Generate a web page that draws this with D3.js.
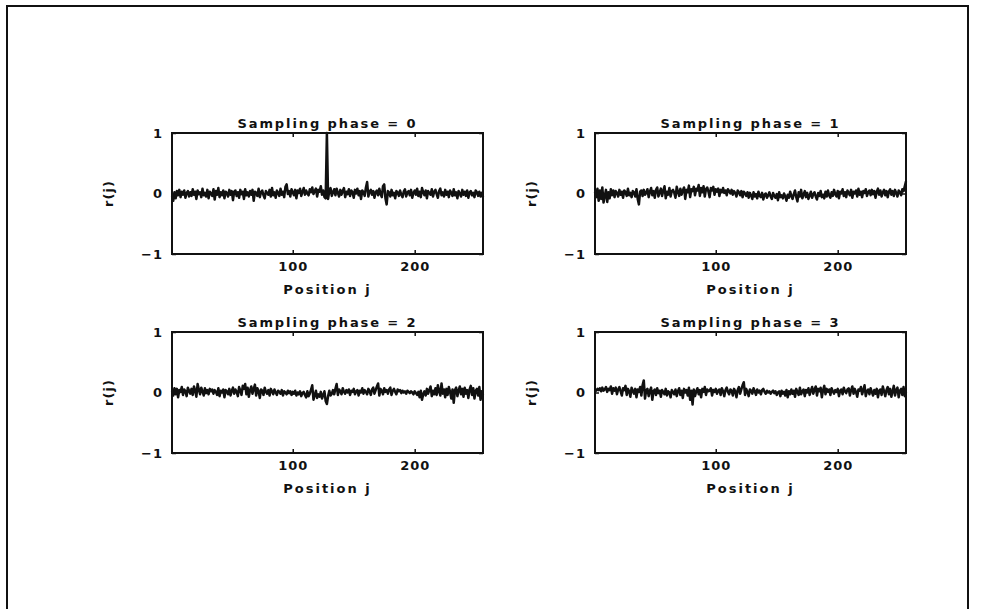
<!DOCTYPE html>
<html>
<head>
<meta charset="utf-8">
<script src="https://cdn.jsdelivr.net/npm/d3@7"></script>
<style>
  body { margin: 0; background: #fff; }
  svg text { font-family: "DejaVu Sans", "Liberation Sans", Arial, sans-serif; font-weight: bold; }
</style>
</head>
<body>
<svg id="chart"></svg>
<script>
// correlation r(j) against position j, for the four sampling phases

var positions = d3.range(1, 257);

var phase0 = [
  -0.05, -0.12, 0.02, -0.08, 0.04, -0.03, 0.06, -0.06, 0.03, -0.02, 0.05, -0.07, 0.01, 0.04, -0.05, 0.02,
  -0.04, 0.07, -0.02, 0.03, -0.09, 0.05, -0.01, 0.02, -0.06, 0.08, -0.03, 0.01, -0.05, 0.06, -0.08, 0.03,
  0.00, -0.04, 0.07, -0.10, 0.04, -0.02, 0.09, -0.06, 0.02, -0.03, 0.05, -0.08, 0.03, 0.01, -0.05, 0.06,
  -0.02, 0.04, -0.11, 0.03, 0.05, -0.04, 0.02, -0.07, 0.06, -0.01, 0.03, -0.09, 0.07, -0.03, 0.02, -0.05,
  0.04, -0.02, 0.06, -0.12, 0.03, 0.01, -0.04, 0.08, -0.06, 0.02, 0.05, -0.03, -0.08, 0.04, 0.01, -0.02,
  0.06, -0.05, 0.09, -0.03, 0.02, -0.07, 0.05, 0.01, -0.04, 0.08, -0.02, 0.03, -0.06, 0.11, 0.15, -0.01,
  0.04, -0.05, 0.07, 0.02, -0.03, 0.06, -0.08, 0.05, 0.01, 0.08, -0.04, 0.03, 0.09, -0.02, 0.05, 0.00,
  -0.03, 0.07, 0.02, 0.10, -0.01, 0.04, 0.08, -0.05, 0.06, 0.03, 0.12, -0.02, 0.05, -0.06, -0.08, 1.00,
  -0.09, 0.05, 0.09, -0.04, 0.02, 0.07, -0.03, 0.08, 0.01, -0.05, 0.06, -0.02, 0.04, 0.09, -0.06, 0.03,
  -0.01, 0.07, -0.04, 0.05, 0.02, -0.07, 0.06, 0.00, 0.08, -0.03, 0.04, -0.09, 0.05, 0.02, -0.04, 0.10,
  0.19, -0.05, 0.03, 0.06, -0.02, 0.04, -0.07, 0.02, 0.05, -0.03, 0.08, -0.01, -0.06, 0.12, 0.15, -0.08,
  -0.18, 0.04, 0.02, -0.05, 0.06, -0.03, 0.01, -0.08, 0.04, 0.02, -0.04, 0.05, -0.02, -0.06, 0.03, 0.07,
  -0.05, 0.02, 0.04, -0.03, 0.06, -0.07, 0.01, 0.05, -0.02, 0.08, -0.04, 0.03, -0.06, 0.09, 0.02, -0.03,
  0.05, -0.08, 0.04, 0.01, -0.02, 0.07, -0.05, 0.03, 0.06, -0.01, -0.07, 0.04, 0.08, -0.03, 0.02, -0.05,
  0.06, -0.02, 0.03, -0.06, 0.05, 0.01, -0.04, 0.07, -0.03, 0.02, -0.08, 0.04, 0.00, -0.05, 0.06, -0.02,
  0.03, -0.04, 0.05, -0.07, 0.02, 0.04, -0.03, 0.01, -0.06, 0.05, 0.02, -0.04, 0.03, -0.05, 0.01, -0.06
];

var phase1 = [
  0.03, -0.06, 0.08, -0.12, 0.05, -0.09, 0.10, -0.15, -0.04, 0.06, -0.14, 0.02, -0.08, 0.07, -0.03, 0.05,
  -0.06, 0.04, 0.01, -0.05, 0.06, -0.02, 0.03, -0.07, 0.05, 0.02, -0.04, 0.08, -0.03, 0.01, -0.06, 0.04,
  0.02, -0.05, 0.07, -0.09, -0.18, 0.03, 0.05, -0.04, 0.06, -0.02, 0.01, 0.07, -0.06, 0.03, 0.09, -0.03,
  0.04, -0.07, 0.06, 0.10, -0.05, 0.02, 0.08, -0.04, 0.05, 0.12, -0.08, 0.03, -0.02, 0.09, -0.05, 0.04,
  0.06, 0.01, -0.07, 0.11, 0.03, -0.04, 0.08, -0.02, 0.05, 0.10, -0.09, 0.06, 0.02, 0.13, -0.06, 0.07,
  0.04, 0.11, -0.03, 0.08, 0.05, 0.14, -0.04, 0.09, 0.02, 0.12, -0.05, 0.07, 0.10, 0.03, -0.06, 0.09,
  0.05, 0.11, -0.02, 0.07, 0.03, 0.08, -0.04, 0.06, 0.02, 0.09, 0.01, 0.05, -0.03, 0.07, 0.04, 0.00,
  0.06, -0.02, 0.04, 0.01, -0.05, 0.05, 0.02, -0.03, 0.04, -0.06, 0.03, 0.00, -0.04, 0.02, -0.07, 0.01,
  -0.03, -0.09, 0.02, -0.05, -0.01, -0.08, 0.03, -0.04, -0.06, 0.01, -0.10, -0.02, 0.00, -0.07, -0.03, 0.02,
  -0.05, -0.09, 0.01, -0.04, -0.07, -0.01, -0.11, 0.02, -0.06, -0.03, -0.08, 0.00, -0.05, -0.12, -0.02, -0.07,
  0.03, -0.04, -0.09, -0.01, 0.05, -0.06, -0.13, 0.02, -0.05, 0.06, -0.08, -0.02, 0.04, -0.06, 0.01, -0.09,
  -0.03, 0.03, -0.07, -0.01, 0.02, -0.05, -0.10, 0.01, -0.04, 0.04, -0.06, -0.02, -0.08, 0.03, -0.05, 0.05,
  -0.03, -0.07, 0.02, -0.04, 0.06, -0.01, -0.05, 0.04, -0.08, 0.03, 0.00, 0.07, -0.04, 0.02, -0.06, 0.05,
  0.01, -0.03, 0.06, -0.07, 0.03, 0.00, 0.05, -0.05, 0.08, -0.02, 0.03, -0.06, 0.04, 0.01, 0.07, -0.04,
  0.02, 0.05, -0.03, 0.06, -0.01, 0.04, -0.07, 0.03, 0.08, -0.02, 0.05, -0.05, 0.02, 0.06, -0.03, 0.04,
  -0.06, 0.03, 0.07, -0.02, 0.04, -0.04, 0.06, 0.01, -0.05, 0.05, 0.02, -0.03, 0.07, 0.04, 0.12, 0.20
];

var phase2 = [
  0.02, -0.05, 0.07, -0.03, 0.06, -0.08, 0.04, 0.01, 0.09, -0.04, 0.05, 0.02, -0.06, 0.08, 0.03, -0.02,
  0.06, -0.04, 0.10, 0.03, -0.07, 0.14, 0.05, -0.03, 0.08, 0.02, -0.05, 0.07, -0.01, 0.04, -0.03, 0.06,
  0.02, 0.05, -0.02, 0.04, 0.01, -0.04, 0.07, -0.06, 0.03, 0.00, 0.05, -0.08, 0.04, 0.02, -0.03, 0.06,
  -0.05, 0.03, 0.08, -0.02, 0.05, 0.01, -0.06, 0.09, 0.03, -0.04, 0.11, 0.06, 0.14, -0.03, 0.08, -0.07,
  0.04, 0.10, -0.02, 0.06, 0.13, -0.05, 0.07, 0.02, -0.09, 0.05, 0.03, -0.04, 0.08, 0.01, -0.02, 0.04,
  -0.05, 0.06, 0.02, -0.03, 0.05, 0.00, -0.04, 0.03, 0.01, -0.02, 0.04, -0.05, 0.02, 0.00, -0.03, 0.03,
  -0.01, 0.02, -0.04, 0.01, -0.02, 0.03, -0.05, 0.00, -0.03, 0.02, -0.06, -0.01, 0.01, -0.04, -0.08, 0.02,
  -0.06, -0.02, 0.05, 0.12, -0.12, -0.05, 0.03, -0.09, -0.03, -0.07, 0.01, -0.10, -0.04, 0.02, -0.14, -0.19,
  -0.06, 0.03, -0.05, -0.02, 0.04, -0.03, 0.06, 0.14, -0.04, 0.05, 0.02, -0.03, 0.07, 0.01, -0.02, 0.04,
  0.00, 0.05, -0.04, 0.03, 0.01, 0.06, -0.03, 0.02, 0.04, -0.05, 0.03, 0.00, 0.07, -0.02, 0.04, 0.01,
  -0.03, 0.06, 0.02, -0.04, 0.05, 0.08, -0.02, 0.04, 0.10, 0.15, -0.05, 0.06, 0.03, -0.03, 0.07, 0.01,
  0.04, -0.02, 0.05, 0.08, -0.04, 0.03, 0.06, 0.01, -0.03, 0.05, 0.02, 0.04, -0.01, 0.03, 0.00, 0.02,
  -0.02, 0.03, 0.01, -0.01, 0.02, 0.00, -0.03, 0.02, -0.01, -0.04, 0.01, -0.08, 0.03, -0.12, -0.03, 0.02,
  -0.05, 0.06, -0.02, 0.04, 0.10, -0.06, 0.03, -0.03, 0.07, -0.04, 0.12, 0.02, -0.05, 0.15, -0.02, 0.05,
  -0.08, 0.06, -0.04, 0.09, 0.01, -0.10, 0.05, -0.17, 0.04, 0.08, -0.06, 0.03, 0.10, -0.03, 0.06, -0.07,
  0.08, -0.02, 0.04, -0.09, 0.05, 0.11, -0.04, 0.07, -0.10, 0.03, 0.06, -0.05, 0.09, -0.12, 0.02, -0.04
];

var phase3 = [
  0.05, 0.03, 0.06, 0.04, 0.07, 0.02, 0.08, 0.03, 0.05, 0.09, 0.01, 0.06, 0.04, 0.10, -0.02, 0.07,
  0.03, 0.08, -0.03, 0.05, 0.09, 0.02, -0.05, 0.07, 0.04, 0.11, -0.04, 0.06, 0.02, -0.07, 0.08, 0.03,
  -0.02, 0.06, -0.08, 0.05, 0.01, 0.09, -0.05, 0.12, 0.20, -0.10, 0.04, 0.06, -0.06, 0.03, 0.08, -0.12,
  0.02, 0.05, -0.04, 0.07, -0.01, 0.03, -0.07, 0.04, 0.01, -0.03, 0.06, -0.05, 0.02, 0.00, -0.08, 0.04,
  0.01, -0.03, 0.05, -0.06, 0.02, 0.07, -0.04, 0.03, -0.09, 0.06, 0.00, 0.04, -0.05, 0.08, -0.12, 0.03,
  -0.20, 0.05, -0.06, 0.02, 0.07, -0.03, 0.04, -0.08, 0.06, 0.01, 0.09, -0.04, 0.05, 0.02, 0.03, 0.07,
  -0.05, 0.04, 0.01, 0.06, -0.02, 0.03, 0.05, -0.04, 0.07, 0.02, -0.06, 0.04, 0.08, 0.01, -0.03, 0.05,
  0.03, -0.05, 0.06, 0.02, -0.08, 0.04, 0.09, -0.02, 0.05, 0.12, 0.17, -0.04, 0.06, 0.01, -0.06, 0.05,
  0.03, -0.02, 0.07, 0.02, -0.04, 0.05, 0.00, 0.03, -0.03, 0.04, 0.06, 0.01, -0.02, 0.03, 0.00, 0.02,
  -0.02, 0.01, 0.03, -0.01, 0.02, -0.04, 0.00, 0.02, -0.06, 0.03, -0.02, 0.01, -0.05, 0.04, -0.08, 0.02,
  -0.03, 0.05, -0.02, 0.03, -0.07, 0.06, 0.01, -0.04, 0.08, -0.03, 0.02, 0.05, -0.06, 0.04, 0.00, 0.07,
  -0.04, 0.03, 0.09, -0.02, 0.05, 0.10, -0.05, 0.06, 0.02, 0.08, -0.08, 0.04, 0.11, -0.03, 0.06, 0.01,
  0.05, -0.04, 0.07, 0.02, -0.02, 0.04, 0.01, 0.06, -0.06, 0.03, 0.05, -0.03, 0.08, 0.02, -0.01, 0.05,
  0.07, -0.05, 0.04, 0.10, -0.02, 0.06, 0.01, -0.07, 0.05, 0.03, 0.09, -0.03, 0.04, 0.12, -0.06, 0.02,
  0.05, -0.03, 0.07, 0.01, -0.05, 0.04, -0.02, 0.06, -0.08, 0.03, 0.05, -0.04, 0.10, 0.02, -0.06, 0.04,
  0.09, -0.03, 0.06, -0.07, 0.02, 0.11, -0.05, 0.04, 0.08, -0.08, 0.03, 0.06, -0.04, 0.09, -0.06, 0.01
];

var titles = ["Sampling phase = 0", "Sampling phase = 1", "Sampling phase = 2", "Sampling phase = 3"];
var xTicks = [100, 200];
var yTicks = [-1, 0, 1];
var xLabel = "Position j";
var yLabel = "r(j)";

var series = [phase0, phase1, phase2, phase3];

var width = 986, height = 609;
var pw = 311, ph = 121;
// top-left corner of each panel
var corners = [[172, 133], [595, 133], [172, 332], [595, 332]];

var svg = d3.select("#chart")
    .attr("width", width)
    .attr("height", height);

// page frame (runs off the bottom of the picture)
svg.append("rect")
    .attr("x", 7)
    .attr("y", 6)
    .attr("width", 961)
    .attr("height", 640)
    .attr("fill", "none")
    .attr("stroke", "#111")
    .attr("stroke-width", 2);

var x = d3.scaleLinear().domain([1, 256]).range([0, pw]);
var y = d3.scaleLinear().domain([-1, 1]).range([ph, 0]);

var line = d3.line()
    .x(function(d, i) { return x(positions[i]); })
    .y(function(d) { return y(d); });

series.forEach(function(values, k) {
    var g = svg.append("g")
        .attr("transform", "translate(" + corners[k][0] + "," + corners[k][1] + ")");

    // axes with inward ticks
    var bottom = g.append("g")
        .attr("transform", "translate(0," + ph + ")")
        .call(d3.axisBottom(x).tickValues(xTicks).tickSize(-4).tickPadding(8).tickFormat(d3.format("d")));
    var top = g.append("g")
        .call(d3.axisTop(x).tickValues(xTicks).tickSize(-4).tickFormat(""));
    var left = g.append("g")
        .call(d3.axisLeft(y).tickValues(yTicks).tickSize(-4).tickPadding(9).tickFormat(d3.format("d")));
    var right = g.append("g")
        .attr("transform", "translate(" + pw + ",0)")
        .call(d3.axisRight(y).tickValues(yTicks).tickSize(-4).tickFormat(""));

    [bottom, top, left, right].forEach(function(a) {
        a.select(".domain").remove();
        a.selectAll("line").attr("stroke", "#111").attr("stroke-width", 1.5);
        a.selectAll("text")
            .attr("fill", "#111")
            .style("font-size", "13px")
            .style("letter-spacing", "1px");
    });

    g.append("path")
        .datum(values)
        .attr("d", line)
        .attr("fill", "none")
        .attr("stroke", "#111")
        .attr("stroke-width", 2.5)
        .attr("stroke-linejoin", "round");

    g.append("rect")
        .attr("width", pw)
        .attr("height", ph)
        .attr("fill", "none")
        .attr("stroke", "#111")
        .attr("stroke-width", 2);

    g.append("text")
        .attr("x", pw / 2)
        .attr("y", -5)
        .attr("text-anchor", "middle")
        .attr("fill", "#111")
        .style("font-size", "13px")
        .style("letter-spacing", "1.9px")
        .text(titles[k]);

    g.append("text")
        .attr("x", pw / 2)
        .attr("y", ph + 40)
        .attr("text-anchor", "middle")
        .attr("fill", "#111")
        .style("font-size", "13px")
        .style("letter-spacing", "2px")
        .text(xLabel);

    g.append("text")
        .attr("transform", "translate(-59," + (ph / 2) + ") rotate(-90)")
        .attr("text-anchor", "middle")
        .attr("fill", "#111")
        .style("font-size", "13px")
        .style("letter-spacing", "1px")
        .text(yLabel);
});
</script>
</body>
</html>
